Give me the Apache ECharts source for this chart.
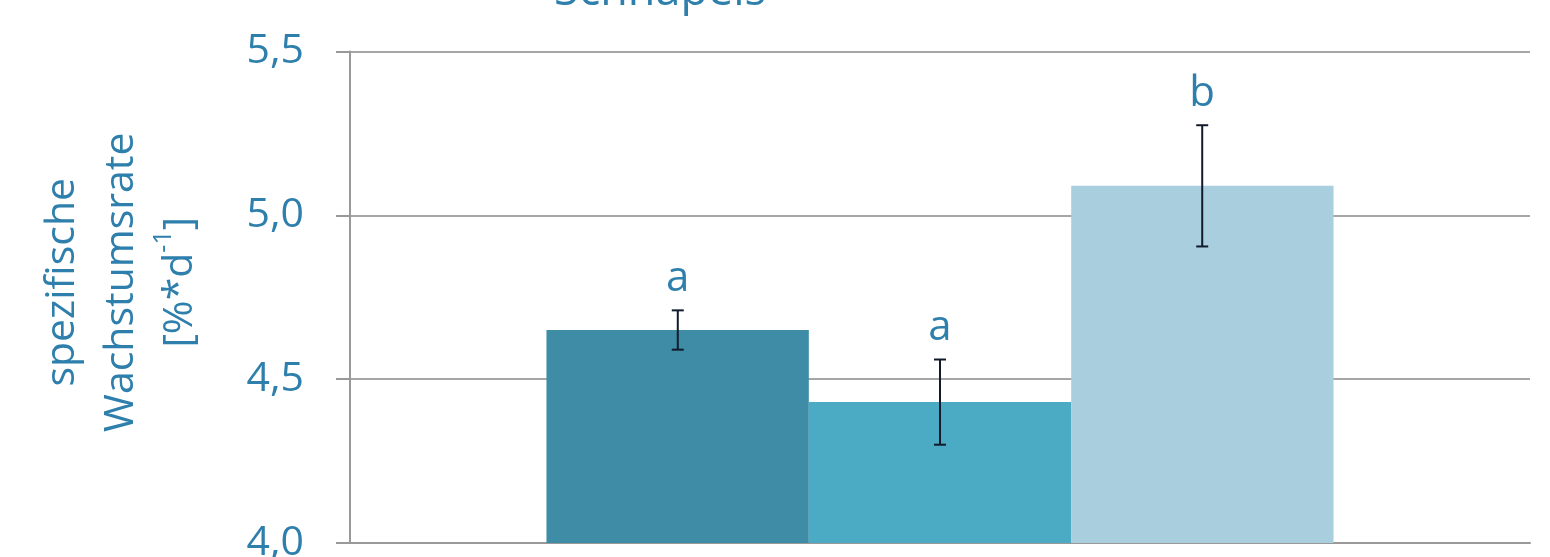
<!DOCTYPE html>
<html lang="de">
<head>
    <meta charset="UTF-8">
    <title>Schnäpels Wachstumsrate</title>
    <style>
        html, body { margin: 0; padding: 0; background: #fff; }
        #main { width: 1550px; height: 557px; }
    </style>
</head>
<body>
<div id="main"></div>
<script src="https://cdn.jsdelivr.net/npm/echarts@6/dist/echarts.min.js"></script>
<script type="text/javascript">
    // Werte
    var categories = [''];
    var groupNames = ['Gruppe 1', 'Gruppe 2', 'Gruppe 3'];
    var growthRate = [4.65, 4.43, 5.09];
    var errLow = [4.59, 4.30, 4.905];
    var errHigh = [4.71, 4.56, 5.275];
    var letters = ['a', 'a', 'b'];
    var yTicks = [4.0, 4.5, 5.0, 5.5];

    var barColors = ['#3e8ca5', '#4babc5', '#a9cedd'];
    var textColor = '#2e7fac';
    var gapRatio = 1 / 3;

    var chart = echarts.init(document.getElementById('main'));

    var barSeries = [];
    for (var i = 0; i < groupNames.length; i++) {
        barSeries.push({
            name: groupNames[i],
            type: 'bar',
            data: [growthRate[i]],
            barGap: '0%',
            barCategoryGap: '33.3%',
            itemStyle: { color: barColors[i] },
            silent: true
        });
    }

    var errData = [];
    for (var j = 0; j < groupNames.length; j++) {
        errData.push([0, errLow[j], errHigh[j], j]);
    }

    var option = {
        animation: false,
        title: {
            text: 'Schnäpels',
            left: 655,
            textAlign: 'center',
            top: -35,
            textStyle: {
                color: textColor,
                fontFamily: 'Open Sans',
                fontWeight: 'normal',
                fontSize: 45
            }
        },
        grid: { left: 350, right: 20, top: 51.5, bottom: 14, outerBoundsMode: 'none' },
        xAxis: {
            type: 'category',
            data: categories,
            axisLine: { show: true, lineStyle: { color: '#999', width: 2 } },
            axisTick: { show: false },
            axisLabel: { show: false }
        },
        yAxis: {
            type: 'value',
            min: yTicks[0],
            max: yTicks[yTicks.length - 1],
            interval: 0.5,
            name: '{a|spezifische}\n{a|Wachstumsrate}\n{a|[%*d}{s|-1}{a|]}',
            nameLocation: 'middle',
            nameGap: 140,
            nameTextStyle: {
                color: textColor,
                padding: [0, 0, 0, 30],
                rich: {
                    a: { fontFamily: 'Open Sans', fontSize: 41, lineHeight: 59, color: textColor },
                    s: { fontFamily: 'Open Sans', fontSize: 25, lineHeight: 59, verticalAlign: 'top', color: textColor }
                }
            },
            axisLine: { show: true, lineStyle: { color: '#999', width: 2 } },
            axisTick: { show: true, length: 14, lineStyle: { color: '#999', width: 2 } },
            axisLabel: {
                margin: 46,
                color: textColor,
                fontFamily: 'Open Sans',
                fontSize: 41,
                formatter: function (v) { return v.toFixed(1).replace('.', ','); }
            },
            splitLine: { lineStyle: { color: '#a6a6a6', width: 2 } }
        },
        series: barSeries.concat([{
            type: 'custom',
            name: 'Fehler',
            silent: true,
            z: 10,
            data: errData,
            renderItem: function (params, api) {
                var lo = api.coord([api.value(0), api.value(1)]);
                var hi = api.coord([api.value(0), api.value(2)]);
                var band = api.size([1, 0])[0];
                var bw = band * (1 - gapRatio) / 3;
                var x = lo[0] + (api.value(3) - 1) * bw;
                var cap = 6;
                var st = { stroke: '#111b2b', lineWidth: 2 };
                return {
                    type: 'group',
                    children: [
                        { type: 'line', shape: { x1: x, y1: hi[1], x2: x, y2: lo[1] }, style: st },
                        { type: 'line', shape: { x1: x - cap, y1: hi[1], x2: x + cap, y2: hi[1] }, style: st },
                        { type: 'line', shape: { x1: x - cap, y1: lo[1], x2: x + cap, y2: lo[1] }, style: st },
                        {
                            type: 'text',
                            style: {
                                x: x,
                                y: hi[1] - 10,
                                text: letters[params.dataIndex],
                                align: 'center',
                                verticalAlign: 'bottom',
                                fill: textColor,
                                fontFamily: 'Open Sans',
                                fontSize: 42
                            }
                        }
                    ]
                };
            }
        }])
    };
    chart.setOption(option);
</script>
</body>
</html>
